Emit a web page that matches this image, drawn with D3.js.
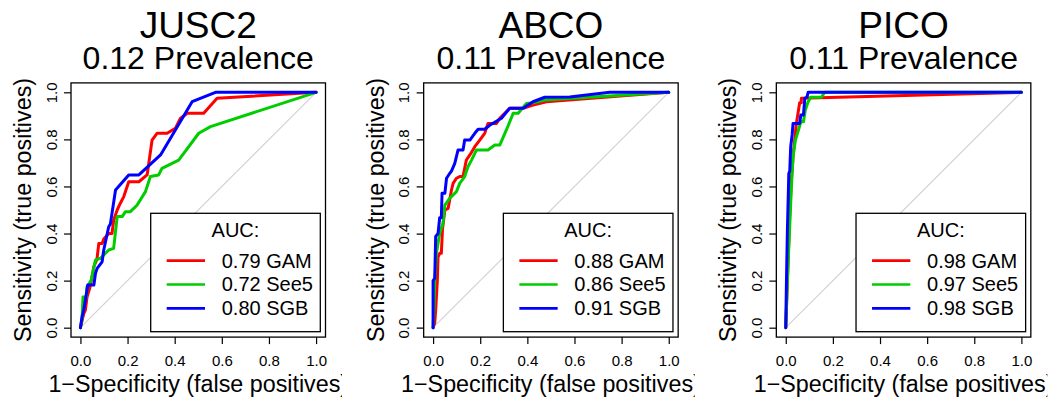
<!DOCTYPE html>
<html lang="en">
  <head>
    <meta charset="UTF-8" />
    <title>ROC curves</title>
    <script src="https://d3js.org/d3.v7.min.js"></script>
    <style>
      * {
        margin: 0;
        padding: 0;
      }
      body {
        background: #fff;
      }
      text {
        font-family: "Liberation Sans", Arial, sans-serif;
        fill: #000;
      }
      .title {
        font-size: 37px;
      }
      .subtitle {
        font-size: 32px;
      }
      .axis-label {
        font-size: 23.3px;
      }
      .tick text {
        font-size: 15px;
      }
      .legend text {
        font-size: 20px;
      }
    </style>
  </head>

  <body></body>

  <script>
    // data
    const species = ["JUSC2", "ABCO", "PICO"];
    const prevalence = ["0.12", "0.11", "0.11"];
    const models = ["GAM", "See5", "SGB"];
    const aucGAM = ["0.79", "0.88", "0.98"];
    const aucSee5 = ["0.72", "0.86", "0.97"];
    const aucSGB = ["0.80", "0.91", "0.98"];
    const tickValues = [0, 0.2, 0.4, 0.6, 0.8, 1.0];

    // [false positive rate, true positive rate]
    const jusc2GAM = [[0,0],[0.007,0.03],[0.014,0.06],[0.021,0.075],[0.028,0.13],[0.04,0.17],[0.05,0.22],[0.057,0.26],[0.07,0.29],[0.078,0.358],[0.092,0.358],[0.099,0.377],[0.12,0.4],[0.134,0.4],[0.141,0.456],[0.156,0.5],[0.17,0.53],[0.184,0.557],[0.205,0.62],[0.248,0.62],[0.283,0.649],[0.304,0.797],[0.325,0.826],[0.368,0.826],[0.403,0.847],[0.424,0.889],[0.453,0.911],[0.523,0.911],[0.58,0.975],[1,1]];
    const jusc2See5 = [[0,0],[0.007,0.04],[0.011,0.13],[0.025,0.13],[0.028,0.174],[0.045,0.2],[0.064,0.288],[0.085,0.295],[0.1,0.31],[0.12,0.33],[0.141,0.337],[0.156,0.472],[0.177,0.472],[0.191,0.493],[0.212,0.493],[0.24,0.52],[0.276,0.578],[0.297,0.642],[0.332,0.649],[0.346,0.677],[0.417,0.712],[0.502,0.826],[0.552,0.854],[1,1]];
    const jusc2SGB = [[0,0],[0.007,0.047],[0.014,0.075],[0.021,0.118],[0.031,0.181],[0.057,0.181],[0.064,0.231],[0.071,0.252],[0.092,0.28],[0.099,0.33],[0.12,0.429],[0.127,0.44],[0.149,0.585],[0.205,0.649],[0.248,0.649],[0.34,0.734],[0.403,0.84],[0.474,0.96],[0.573,1],[1,1]];

    const abcoGAM = [[0,0],[0.007,0.02],[0.011,0.075],[0.018,0.2],[0.021,0.3],[0.028,0.316],[0.035,0.316],[0.04,0.42],[0.05,0.5],[0.064,0.507],[0.078,0.585],[0.085,0.613],[0.099,0.635],[0.113,0.642],[0.127,0.642],[0.141,0.712],[0.156,0.734],[0.177,0.769],[0.198,0.797],[0.219,0.826],[0.233,0.868],[0.269,0.868],[0.283,0.89],[0.325,0.932],[0.382,0.932],[0.424,0.946],[0.481,0.96],[1,1]];
    const abcoSee5 = [[0,0],[0.004,0.1],[0.007,0.2],[0.014,0.316],[0.028,0.4],[0.042,0.443],[0.05,0.521],[0.071,0.55],[0.099,0.578],[0.113,0.613],[0.134,0.642],[0.148,0.684],[0.163,0.712],[0.184,0.755],[0.233,0.755],[0.262,0.776],[0.283,0.776],[0.311,0.84],[0.34,0.911],[0.361,0.911],[0.396,0.953],[0.424,0.956],[0.474,0.967],[1,1]];
    const abcoSGB = [[0,0],[0,0.2],[0.007,0.21],[0.011,0.388],[0.021,0.4],[0.028,0.467],[0.035,0.467],[0.038,0.571],[0.05,0.571],[0.057,0.635],[0.071,0.656],[0.078,0.665],[0.092,0.698],[0.106,0.755],[0.127,0.755],[0.134,0.797],[0.156,0.797],[0.177,0.826],[0.191,0.843],[0.219,0.843],[0.24,0.86],[0.29,0.89],[0.325,0.932],[0.382,0.932],[0.424,0.96],[0.474,0.979],[0.58,0.98],[0.75,1],[1,1]];

    const picoGAM = [[0,0],[0.007,0.2],[0.017,0.486],[0.024,0.627],[0.031,0.727],[0.038,0.797],[0.045,0.868],[0.052,0.911],[0.059,0.956],[0.066,0.956],[0.066,0.975],[1,1]];
    const picoSee5 = [[0,0],[0.007,0.2],[0.013,0.344],[0.024,0.6],[0.031,0.727],[0.041,0.797],[0.052,0.833],[0.064,0.875],[0.075,0.875],[0.083,0.925],[0.095,0.96],[0.106,0.979],[0.151,0.979],[0.165,1],[1,1]];
    const picoSGB = [[0,0],[0.003,0.2],[0.007,0.415],[0.013,0.656],[0.017,0.665],[0.021,0.769],[0.027,0.819],[0.031,0.868],[0.059,0.868],[0.064,0.904],[0.075,0.904],[0.081,0.975],[0.09,0.98],[0.095,1],[1,1]];

    const curves = [
      [jusc2GAM, jusc2See5, jusc2SGB],
      [abcoGAM, abcoSee5, abcoSGB],
      [picoGAM, picoSee5, picoSGB],
    ];
    const aucs = [aucGAM, aucSee5, aucSGB];

    // styles / layout
    const colors = ["#ff0000", "#00cd00", "#0000ff"];
    const w = 1058;
    const h = 401;
    const panelW = w / 3;

    const svg = d3
      .select("body")
      .append("svg")
      .attr("width", w)
      .attr("height", h);

    // R style: 4% padding around [0,1]
    const x = d3.scaleLinear().domain([-0.04, 1.04]).range([71, 325.5]);
    const y = d3.scaleLinear().domain([-0.04, 1.04]).range([337.1, 82.9]);
    const line = d3
      .line()
      .x((d) => x(d[0]))
      .y((d) => y(d[1]));

    species.forEach((sp, i) => {
      svg
        .append("clipPath")
        .attr("id", "clip" + i)
        .append("rect")
        .attr("x", 0)
        .attr("y", 0)
        .attr("width", 342)
        .attr("height", h);

      const g = svg
        .append("g")
        .attr("transform", "translate(" + i * panelW + ",0)")
        .attr("clip-path", "url(#clip" + i + ")");

      const cx = (x(0) + x(1)) / 2;

      // titles
      g.append("text")
        .attr("class", "title")
        .attr("x", cx)
        .attr("y", 37.5)
        .attr("text-anchor", "middle")
        .text(sp);
      g.append("text")
        .attr("class", "subtitle")
        .attr("x", cx)
        .attr("y", 68.5)
        .attr("text-anchor", "middle")
        .text(prevalence[i] + " Prevalence");

      // diagonal
      g.append("line")
        .attr("x1", x(0))
        .attr("y1", y(0))
        .attr("x2", x(1))
        .attr("y2", y(1))
        .attr("stroke", "#d3d3d3")
        .attr("stroke-width", 1.2);

      // curves
      curves[i].forEach((c, k) => {
        g.append("path")
          .attr("d", line(c))
          .attr("fill", "none")
          .attr("stroke", colors[k])
          .attr("stroke-width", 3)
          .attr("stroke-linejoin", "round")
          .attr("stroke-linecap", "round");
      });

      // axes
      const xAxis = g
        .append("g")
        .attr("transform", "translate(0," + 337.1 + ")")
        .call(
          d3
            .axisBottom(x)
            .tickValues(tickValues)
            .tickFormat(d3.format(".1f"))
            .tickSize(7)
            .tickPadding(11)
        );
      xAxis.select(".domain").remove();
      xAxis.selectAll(".tick line").attr("stroke", "#000").attr("stroke-width", 1.2);

      const yAxis = g
        .append("g")
        .attr("transform", "translate(71,0)")
        .call(
          d3
            .axisLeft(y)
            .tickValues(tickValues)
            .tickFormat(d3.format(".1f"))
            .tickSize(7)
        );
      yAxis.select(".domain").remove();
      yAxis.selectAll(".tick line").attr("stroke", "#000").attr("stroke-width", 1.2);
      yAxis
        .selectAll(".tick text")
        .attr("x", null)
        .attr("dy", null)
        .attr("text-anchor", "middle")
        .attr("transform", "translate(-14.5,0) rotate(-90)");

      // box
      g.append("rect")
        .attr("x", x.range()[0])
        .attr("y", y.range()[1])
        .attr("width", x.range()[1] - x.range()[0])
        .attr("height", y.range()[0] - y.range()[1])
        .attr("fill", "none")
        .attr("stroke", "#000")
        .attr("stroke-width", 1.3);

      // axis labels
      g.append("text")
        .attr("class", "axis-label")
        .attr("x", cx)
        .attr("y", 392)
        .attr("text-anchor", "middle")
        .text("1\u2212Specificity (false positives)");
      g.append("text")
        .attr("class", "axis-label")
        .attr("text-anchor", "middle")
        .attr("transform", "translate(31," + (y(0) + y(1)) / 2 + ") rotate(-90)")
        .text("Sensitivity (true positives)");

      // legend
      const lg = g
        .append("g")
        .attr("class", "legend")
        .attr("transform", "translate(150.7,213.3)");
      lg.append("rect")
        .attr("width", 169.6)
        .attr("height", 118.4)
        .attr("fill", "#fff")
        .attr("stroke", "#000")
        .attr("stroke-width", 1.3);
      lg.append("text")
        .attr("x", 84.8)
        .attr("y", 23.4)
        .attr("text-anchor", "middle")
        .text("AUC:");
      models.forEach((m, k) => {
        const ly = 47.4 + k * 23.8;
        lg.append("line")
          .attr("x1", 16)
          .attr("x2", 54.3)
          .attr("y1", ly)
          .attr("y2", ly)
          .attr("stroke", colors[k])
          .attr("stroke-width", 2.7);
        lg.append("text")
          .attr("x", 71)
          .attr("y", ly + 7)
          .text(aucs[k][i] + " " + m);
      });
    });
  </script>
</html>
